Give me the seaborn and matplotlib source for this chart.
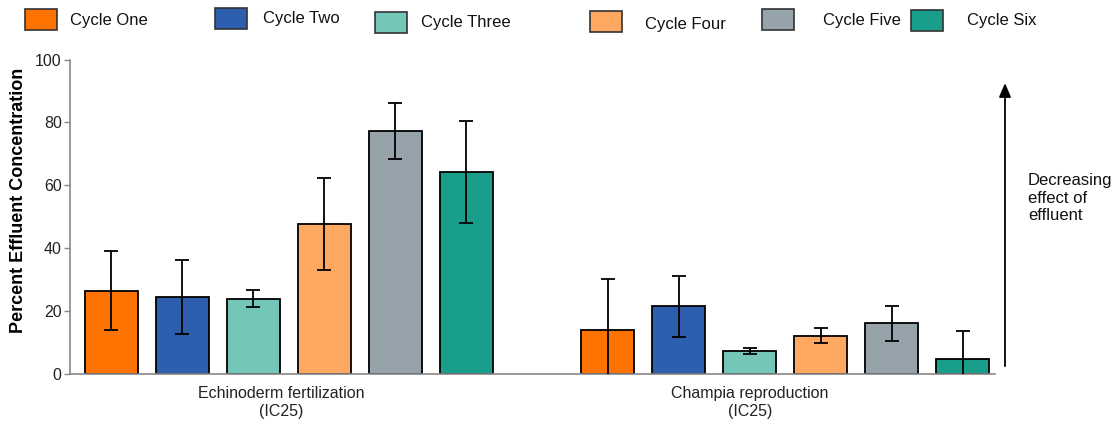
import matplotlib
matplotlib.use("Agg")
import matplotlib.pyplot as plt
from matplotlib.patches import Rectangle
import numpy as np
import pandas as pd
import seaborn as sns

# Endpoints (x categories)
endpoints = ["Echinoderm fertilization\n(IC25)", "Champia reproduction\n(IC25)"]

# Sampling cycles (hue levels)
cycles = ["Cycle One", "Cycle Two", "Cycle Three", "Cycle Four", "Cycle Five", "Cycle Six"]
cycle_colors = ["#FF7300", "#2E5FAE", "#74C6B9", "#FFA862", "#96A3AB", "#1A9E8C"]

# IC25 as percent effluent, one value per cycle
echinoderm_ic25 = [26.4, 24.4, 23.9, 47.7, 77.3, 64.3]
champia_ic25 = [14.0, 21.4, 7.3, 12.1, 16.0, 4.8]

# Error bar half-widths
echinoderm_err = [12.5, 11.9, 2.7, 14.6, 9.0, 16.2]
champia_err = [16.2, 9.8, 1.0, 2.4, 5.5, 8.8]

y_ticks = [0, 20, 40, 60, 80, 100]

df = pd.DataFrame({
    "endpoint": [endpoints[0]] * len(cycles) + [endpoints[1]] * len(cycles),
    "cycle": cycles + cycles,
    "ic25": echinoderm_ic25 + champia_ic25,
    "err": echinoderm_err + champia_err,
})

sns.set_theme(style="white")
plt.rcParams["font.family"] = ["Liberation Sans", "DejaVu Sans"]

W, H = 1118, 422
fig = plt.figure(figsize=(W / 100, H / 100), dpi=100)
ax = fig.add_axes([70 / W, 1 - 373.7 / H, 925 / W, (373.7 - 59.5) / H])

palette = dict(zip(cycles, cycle_colors))
sns.barplot(
    data=df, x="endpoint", y="ic25", hue="cycle", order=endpoints,
    hue_order=cycles, palette=palette, errorbar=None, width=0.8585,
    gap=0.254, dodge=True, edgecolor="black", linewidth=1.3,
    saturation=1, legend=False, ax=ax,
)

# Error bars placed on the drawn bars
for cycle, container in zip(cycles, ax.containers):
    sub = df[df["cycle"] == cycle].set_index("endpoint").loc[endpoints]
    xs = [p.get_x() + p.get_width() / 2 for p in container.patches]
    ax.errorbar(xs, sub["ic25"].values, yerr=sub["err"].values, fmt="none",
                ecolor="black", elinewidth=1.3, capsize=5, capthick=1.3,
                zorder=5)

ax.set_ylim(0, 100)
ax.set_xlim(-0.441, 1.423)
ax.set_yticks(y_ticks)
ax.set_yticklabels([str(v) for v in y_ticks], fontsize=11.5, color="#222222")
ax.set_xticks([-0.016, 0.929])
ax.set_xticklabels(endpoints, fontsize=11.5, color="#222222")
ax.tick_params(axis="x", length=0, pad=9)
ax.tick_params(axis="y", left=True, length=4, width=1, color="#888888",
               direction="out", pad=2)
ax.set_xlabel("")
ax.set_ylabel("Percent Effluent Concentration", fontsize=13, fontweight="bold",
              color="black")
ax.yaxis.set_label_coords(-0.047, 0.553)

for side in ["top", "right"]:
    ax.spines[side].set_visible(False)
for side in ["left", "bottom"]:
    ax.spines[side].set_color("#888888")
    ax.spines[side].set_linewidth(1.2)

# Arrow and note on the right
ax.annotate("", xy=(1.0108, 92.5), xytext=(1.0108, 2.4),
            xycoords=("axes fraction", "data"), textcoords=("axes fraction", "data"),
            arrowprops=dict(arrowstyle="-|>,head_length=0.7,head_width=0.3",
                            color="black", lw=1.3, shrinkA=0, shrinkB=0),
            annotation_clip=False)
fig.text(1028 / W, 1 - 198 / H, "Decreasing\neffect of\neffluent",
         fontsize=12, ha="left", va="center", color="#111111", linespacing=1.2)

# Legend row across the top
legend_patch_x = [25, 215, 375, 590, 762, 911]
legend_patch_y = [9, 8, 12, 11, 9, 10]
legend_text_x = [70, 263, 421, 645, 823, 967]
legend_text_y = [21, 18, 22, 25, 20, 20]
for name, color, px, py, tx, ty in zip(cycles, cycle_colors, legend_patch_x,
                                       legend_patch_y, legend_text_x, legend_text_y):
    fig.patches.append(Rectangle((px / W, 1 - (py + 21) / H), 32 / W, 21 / H,
                                 transform=fig.transFigure, facecolor=color,
                                 edgecolor="#333333", linewidth=1.2))
    fig.text(tx / W, 1 - ty / H, name, fontsize=12, ha="left", va="center",
             color="#111111")

fig.savefig("out.png", dpi=100)
